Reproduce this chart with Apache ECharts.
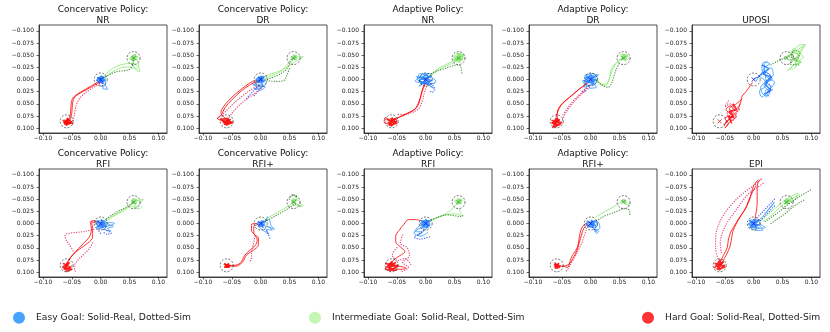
<!DOCTYPE html>
<html>
<head>
<meta charset="utf-8">
<script src="https://cdn.jsdelivr.net/npm/echarts@6.0.0/dist/echarts.min.js"></script>
<style>
  html, body { margin: 0; padding: 0; background: #fff; }
  #chart { width: 830px; height: 332px; }
</style>
</head>
<body>
<div id="chart"></div>
<script>
// tick values and labels (matplotlib style minus sign)
const xTicks = [-0.1, -0.05, 0, 0.05, 0.1];
const xTickLabels = ['−0.10', '−0.05', '0.00', '0.05', '0.10'];
const yTicks = [-0.1, -0.075, -0.05, -0.025, 0, 0.025, 0.05, 0.075, 0.1];
const yTickLabels = ['−0.100', '−0.075', '−0.050', '−0.025', '0.000', '0.025', '0.050', '0.075', '0.100'];

const titles = [
  'Concervative Policy:\nNR', 'Concervative Policy:\nDR', 'Adaptive Policy:\nNR', 'Adaptive Policy:\nDR', 'UPOSI',
  'Concervative Policy:\nRFI', 'Concervative Policy:\nRFI+', 'Adaptive Policy:\nRFI', 'Adaptive Policy:\nRFI+', 'EPI'
];
const legendNames = ['Easy Goal: Solid-Real, Dotted-Sim', 'Intermediate Goal: Solid-Real, Dotted-Sim', 'Hard Goal: Solid-Real, Dotted-Sim'];

// goals [x, y]
const goalEasy = [0, 0];
const goalMid = [0.057, -0.044];
const goalHard = [-0.059, 0.086];

// ---- Concervative Policy: NR
const consNrBlueReal = [
  [[0.0,0.0],[-0.006,-0.004],[0.004,0.003],[-0.004,0.006],[0.006,-0.005],[0.008,0.01],[0.003,0.018],[0.012,0.02],[0.005,0.008],[-0.007,0.002],[0.002,-0.006],[0.007,0.004],[0.001,0.001]]
];
const consNrBlueSim = [[[0.001,0.004],[0.004,0.01],[0.002,0.015],[-0.002,0.008]]];
const consNrGreenReal = [
  [[0.004,-0.004],[0.014,-0.017],[0.027,-0.027],[0.042,-0.032],[0.056,-0.033],[0.065,-0.027],[0.068,-0.016],[0.061,-0.02],[0.056,-0.034],[0.058,-0.044],[0.064,-0.04],[0.053,-0.047],[0.06,-0.05],[0.057,-0.043]],
  [[0.006,-0.002],[0.02,-0.015],[0.035,-0.024],[0.05,-0.026],[0.062,-0.022],[0.066,-0.03],[0.06,-0.044]]
];
const consNrGreenSim = [[[0.005,-0.003],[0.018,-0.012],[0.032,-0.017],[0.046,-0.019],[0.053,-0.024],[0.056,-0.033],[0.057,-0.044]]];
const consNrRedReal = [
  [[-0.002,0.003],[-0.016,0.013],[-0.032,0.024],[-0.047,0.036],[-0.051,0.048],[-0.052,0.065],[-0.054,0.079],[-0.059,0.086],[-0.052,0.09],[-0.063,0.092],[-0.057,0.082],[-0.05,0.088],[-0.06,0.089]],
  [[-0.001,0.005],[-0.02,0.018],[-0.044,0.035],[-0.049,0.05],[-0.05,0.068],[-0.055,0.085],[-0.065,0.087],[-0.058,0.093]]
];
const consNrRedSim = [[[0.001,0.007],[-0.012,0.016],[-0.025,0.026],[-0.036,0.038],[-0.042,0.052],[-0.045,0.066],[-0.047,0.08],[-0.051,0.09]]];
const consNrBlobs = [
  [[-0.006,-0.004],[0.005,0.003],[-0.004,0.006],[0.006,-0.005],[-0.007,0.002],[0.004,0.007],[0.002,-0.007],[-0.005,-0.001],[0.007,0.001],[-0.002,0.005],[0.003,-0.003]],
  [[0.052,-0.047],[0.062,-0.041],[0.055,-0.05],[0.064,-0.047],[0.053,-0.04],[0.06,-0.052],[0.058,-0.038],[0.05,-0.044]],
  [[-0.066,0.084],[-0.052,0.09],[-0.062,0.092],[-0.054,0.082],[-0.064,0.09],[-0.05,0.087],[-0.06,0.094],[-0.058,0.08],[-0.048,0.092]]
];

// ---- Concervative Policy: DR
const consDrBlueReal = [
  [[0.0,0.0],[-0.008,0.004],[0.006,-0.004],[-0.012,0.012],[0.004,0.01],[-0.01,0.02],[0.002,0.016],[0.01,0.006],[-0.004,-0.006],[0.003,0.003]],
  [[-0.002,0.004],[-0.015,0.008],[-0.006,0.014],[0.008,0.015],[0.0,0.022],[-0.012,0.018]]
];
const consDrBlueSim = [
  [[-0.004,0.012],[-0.01,0.02],[-0.016,0.028],[-0.022,0.036],[-0.026,0.043]],
  [[0.004,0.014],[-0.004,0.024],[-0.012,0.034]]
];
const consDrGreenReal = [
  [[0.004,-0.004],[0.014,-0.01],[0.025,-0.014],[0.038,-0.02],[0.048,-0.027],[0.058,-0.035],[0.068,-0.042],[0.074,-0.047],[0.062,-0.046],[0.056,-0.043]],
  [[0.006,-0.002],[0.02,-0.008],[0.034,-0.016],[0.046,-0.03],[0.055,-0.044],[0.06,-0.04]]
];
const consDrGreenSim = [
  [[0.008,0.001],[0.02,-0.004],[0.032,-0.01],[0.044,-0.02],[0.05,-0.032],[0.056,-0.044]],
  [[0.015,0.003],[0.028,0.004],[0.04,0.002],[0.046,-0.01],[0.05,-0.024]]
];
const consDrRedReal = [
  [[-0.003,0.002],[-0.014,0.004],[-0.027,0.014],[-0.04,0.026],[-0.053,0.04],[-0.064,0.055],[-0.069,0.068],[-0.063,0.078],[-0.058,0.084],[-0.05,0.088],[-0.062,0.09],[-0.056,0.082],[-0.052,0.089]],
  [[-0.004,0.004],[-0.02,0.012],[-0.036,0.026],[-0.05,0.042],[-0.062,0.058],[-0.068,0.072],[-0.075,0.08],[-0.06,0.086]]
];
const consDrRedSim = [
  [[-0.004,0.012],[-0.018,0.022],[-0.032,0.034],[-0.046,0.048],[-0.058,0.062],[-0.068,0.074],[-0.078,0.082]],
  [[0.0,0.018],[-0.012,0.03],[-0.026,0.042],[-0.04,0.056],[-0.05,0.07],[-0.058,0.084]]
];
const consDrBlobs = [
  [[-0.006,-0.004],[0.006,0.004],[-0.005,0.006],[0.006,-0.006],[-0.008,0.0],[0.003,0.008],[0.001,-0.007],[-0.006,0.003],[0.007,0.002]],
  [[0.052,-0.046],[0.063,-0.042],[0.056,-0.05],[0.062,-0.048],[0.054,-0.04]],
  [[-0.068,0.084],[-0.05,0.09],[-0.064,0.092],[-0.052,0.082],[-0.066,0.088],[-0.048,0.088],[-0.06,0.094],[-0.056,0.08],[-0.07,0.082]]
];

// ---- Adaptive Policy: NR
const adNrBlueReal = [
  [[0.0,0.0],[-0.016,-0.006],[-0.006,0.006],[-0.018,0.004],[-0.004,-0.01],[0.01,-0.004],[0.018,0.004],[0.006,0.012],[0.014,0.018],[-0.002,0.008],[-0.012,0.014],[0.002,0.002]],
  [[0.002,-0.002],[0.012,-0.012],[-0.01,-0.012],[-0.014,0.0],[0.004,0.01],[0.016,0.008]]
];
const adNrBlueSim = [[[0.006,0.006],[0.012,0.012],[0.016,0.02],[0.012,0.026],[0.006,0.024]]];
const adNrGreenReal = [
  [[0.004,-0.006],[0.014,-0.015],[0.024,-0.024],[0.036,-0.031],[0.047,-0.038],[0.056,-0.044],[0.066,-0.05],[0.05,-0.05],[0.06,-0.036],[0.064,-0.046],[0.052,-0.04]],
  [[0.006,-0.004],[0.02,-0.017],[0.034,-0.027],[0.048,-0.034],[0.058,-0.042],[0.07,-0.044]]
];
const adNrGreenSim = [[[0.01,-0.012],[0.02,-0.018],[0.032,-0.022],[0.044,-0.027],[0.054,-0.03],[0.06,-0.028],[0.062,-0.02],[0.063,-0.012]]];
const adNrRedReal = [
  [[0.0,0.006],[-0.004,0.018],[-0.008,0.032],[-0.012,0.046],[-0.018,0.06],[-0.028,0.068],[-0.04,0.075],[-0.052,0.08],[-0.06,0.084],[-0.07,0.078],[-0.072,0.088],[-0.058,0.092],[-0.05,0.084],[-0.062,0.08]],
  [[-0.002,0.008],[-0.007,0.025],[-0.01,0.042],[-0.016,0.058],[-0.026,0.066],[-0.044,0.076],[-0.056,0.086]]
];
const adNrRedSim = [[[0.003,0.01],[-0.002,0.026],[-0.006,0.044],[-0.012,0.06],[-0.024,0.068],[-0.036,0.072],[-0.048,0.072]]];
const adNrBlobs = [
  [[-0.01,-0.006],[0.008,0.004],[-0.008,0.008],[0.009,-0.007],[-0.011,0.002],[0.005,0.01],[0.002,-0.01],[-0.008,-0.002],[0.01,0.002],[-0.003,0.008],[0.004,-0.005]],
  [[0.048,-0.046],[0.064,-0.04],[0.054,-0.054],[0.066,-0.05],[0.05,-0.038],[0.06,-0.054],[0.058,-0.036],[0.048,-0.042]],
  [[-0.068,0.082],[-0.05,0.09],[-0.064,0.094],[-0.052,0.08],[-0.066,0.09],[-0.05,0.086],[-0.06,0.096],[-0.058,0.078]]
];

// ---- Adaptive Policy: DR
const adDrBlueReal = [
  [[0.0,0.0],[-0.01,-0.008],[0.004,-0.012],[0.012,-0.002],[0.006,0.01],[-0.008,0.012],[-0.014,0.002],[0.002,0.006],[0.01,0.016],[-0.004,0.018]],
  [[0.002,0.0],[0.014,-0.01],[-0.006,-0.004],[-0.012,0.016],[0.008,0.008]]
];
const adDrBlueSim = [[[-0.004,0.014],[-0.01,0.02],[-0.016,0.026],[-0.008,0.024]]];
const adDrGreenReal = [
  [[0.006,-0.004],[0.014,0.004],[0.02,0.01],[0.028,0.008],[0.033,-0.004],[0.037,-0.018],[0.042,-0.03],[0.05,-0.04],[0.058,-0.044],[0.064,-0.05],[0.052,-0.052],[0.06,-0.038],[0.066,-0.044]],
  [[0.004,-0.002],[0.016,0.008],[0.026,0.012],[0.032,0.0],[0.036,-0.022],[0.046,-0.036],[0.056,-0.046]]
];
const adDrGreenSim = [[[0.01,0.002],[0.02,0.012],[0.03,0.016],[0.036,0.008],[0.04,-0.006],[0.044,-0.02],[0.05,-0.034]]];
const adDrRedReal = [
  [[-0.004,0.006],[-0.016,0.016],[-0.03,0.03],[-0.042,0.042],[-0.052,0.054],[-0.057,0.066],[-0.06,0.078],[-0.062,0.088],[-0.056,0.094],[-0.066,0.09],[-0.058,0.08],[-0.054,0.088]],
  [[-0.006,0.008],[-0.022,0.022],[-0.038,0.038],[-0.05,0.05],[-0.058,0.068],[-0.058,0.086]]
];
const adDrRedSim = [
  [[-0.002,0.016],[-0.014,0.028],[-0.026,0.042],[-0.036,0.056],[-0.044,0.07],[-0.05,0.086]],
  [[-0.008,0.018],[-0.02,0.032],[-0.032,0.046],[-0.042,0.062],[-0.05,0.076]]
];
const adDrBlobs = [
  [[-0.008,-0.008],[0.007,0.004],[-0.009,0.006],[0.008,-0.006],[-0.01,-0.002],[0.004,0.009],[0.0,-0.01],[-0.007,0.002],[0.009,0.0],[-0.002,0.007]],
  [[0.052,-0.048],[0.062,-0.042],[0.055,-0.052],[0.064,-0.048],[0.052,-0.04],[0.06,-0.05]],
  [[-0.068,0.084],[-0.052,0.092],[-0.064,0.096],[-0.054,0.082],[-0.068,0.09],[-0.05,0.088],[-0.062,0.098],[-0.058,0.08],[-0.066,0.1]]
];

// ---- UPOSI
const uposiBlueReal = [
  [[0.0,0.0],[0.012,-0.01],[0.02,-0.026],[0.028,-0.032],[0.018,-0.036],[0.014,-0.02],[0.026,-0.012],[0.032,0.0],[0.022,0.006],[0.03,0.016],[0.02,0.024],[0.026,0.034],[0.016,0.03],[0.012,0.016],[0.02,0.004],[0.01,-0.006]],
  [[0.004,0.004],[0.016,-0.014],[0.024,-0.004],[0.036,0.006],[0.028,0.02],[0.014,0.036],[0.01,0.024],[0.022,0.012],[0.018,-0.03],[0.024,-0.038]],
  [[0.008,-0.004],[0.02,-0.018],[0.03,-0.024],[0.034,-0.01],[0.024,0.0],[0.018,0.012],[0.028,0.028],[0.02,0.036]]
];
const uposiBlueSim = [[[0.006,-0.004],[0.02,-0.014],[0.03,-0.006],[0.022,0.004],[0.03,0.014],[0.024,0.026],[0.034,0.02]]];
const uposiGreenReal = [
  [[0.05,-0.042],[0.06,-0.05],[0.072,-0.058],[0.082,-0.066],[0.088,-0.07],[0.08,-0.056],[0.086,-0.046],[0.074,-0.036],[0.064,-0.024],[0.058,-0.018],[0.07,-0.03],[0.078,-0.05],[0.07,-0.064],[0.062,-0.044]],
  [[0.056,-0.046],[0.066,-0.038],[0.076,-0.044],[0.084,-0.06],[0.09,-0.072],[0.078,-0.07],[0.068,-0.052],[0.074,-0.028],[0.064,-0.02]]
];
const uposiGreenSim = [[[0.03,-0.03],[0.042,-0.038],[0.054,-0.044],[0.066,-0.05],[0.074,-0.04],[0.08,-0.056],[0.07,-0.06],[0.064,-0.032],[0.078,-0.03]]];
const uposiRedReal = [
  [[-0.002,0.006],[-0.008,0.016],[-0.014,0.026],[-0.02,0.034],[-0.022,0.044],[-0.026,0.056],[-0.034,0.062],[-0.04,0.054],[-0.048,0.062],[-0.04,0.072],[-0.05,0.08],[-0.044,0.09],[-0.05,0.1],[-0.04,0.086],[-0.03,0.076],[-0.038,0.066]],
  [[-0.02,0.04],[-0.03,0.05],[-0.042,0.06],[-0.036,0.074],[-0.046,0.086],[-0.052,0.094],[-0.042,0.08],[-0.028,0.064],[-0.024,0.05]]
];
const uposiRedSim = [[[-0.044,0.044],[-0.05,0.056],[-0.04,0.05],[-0.034,0.06],[-0.046,0.07],[-0.036,0.084],[-0.03,0.07],[-0.024,0.06]]];
const uposiBlobs = [
  [[0.014,-0.03],[0.026,-0.022],[0.016,-0.012],[0.03,-0.004],[0.02,0.01],[0.03,0.022],[0.018,0.03]],
  [[0.066,-0.058],[0.078,-0.05],[0.07,-0.04],[0.082,-0.036],[0.072,-0.03]],
  [[-0.036,0.05],[-0.03,0.062],[-0.042,0.066],[-0.034,0.078],[-0.044,0.076],[-0.038,0.09]]
];

// ---- Concervative Policy: RFI
const consRfiBlueReal = [
  [[0.0,0.0],[-0.01,-0.004],[0.004,-0.006],[0.014,0.002],[0.022,0.006],[0.012,0.01],[0.018,0.016],[0.004,0.012],[-0.008,0.008],[0.0,0.004]],
  [[0.002,0.002],[0.016,-0.002],[0.024,0.0],[0.01,0.006],[-0.004,0.01]]
];
const consRfiBlueSim = [[[0.004,0.008],[0.01,0.014],[0.018,0.02],[0.01,0.022],[0.004,0.016]], [[-0.006,0.012],[0.0,0.02]]];
const consRfiGreenReal = [
  [[0.006,-0.006],[0.018,-0.014],[0.03,-0.022],[0.042,-0.03],[0.052,-0.038],[0.058,-0.044],[0.068,-0.048],[0.074,-0.05],[0.066,-0.038],[0.058,-0.032],[0.062,-0.044]],
  [[0.008,-0.004],[0.024,-0.016],[0.04,-0.026],[0.054,-0.036],[0.066,-0.03],[0.072,-0.036]]
];
const consRfiGreenSim = [[[0.01,-0.01],[0.02,-0.018],[0.03,-0.025],[0.04,-0.031],[0.048,-0.037],[0.055,-0.043]]];
const consRfiRedReal = [
  [[-0.004,-0.002],[-0.012,-0.006],[-0.018,-0.002],[-0.016,0.01],[-0.018,0.024],[-0.024,0.034],[-0.034,0.046],[-0.044,0.058],[-0.052,0.07],[-0.058,0.082],[-0.064,0.09],[-0.056,0.094],[-0.05,0.086]],
  [[-0.006,0.0],[-0.016,-0.004],[-0.014,0.012],[-0.014,0.028],[-0.022,0.04],[-0.036,0.052],[-0.048,0.064],[-0.056,0.076],[-0.06,0.088]]
];
const consRfiRedSim = [
  [[-0.012,0.012],[-0.026,0.016],[-0.04,0.018],[-0.054,0.02],[-0.062,0.024],[-0.06,0.034],[-0.054,0.044],[-0.048,0.056]],
  [[-0.014,0.04],[-0.02,0.052],[-0.03,0.064],[-0.04,0.076],[-0.046,0.088],[-0.044,0.098]]
];
const consRfiBlobs = [
  [[-0.007,-0.005],[0.006,0.004],[-0.006,0.007],[0.008,-0.004],[-0.008,0.001],[0.003,0.008],[0.001,-0.008],[0.01,0.006],[-0.004,0.004]],
  [[0.052,-0.046],[0.062,-0.04],[0.055,-0.05],[0.063,-0.048],[0.053,-0.04]],
  [[-0.066,0.082],[-0.052,0.09],[-0.064,0.094],[-0.054,0.08],[-0.066,0.09],[-0.05,0.094],[-0.06,0.098],[-0.058,0.08]]
];

// ---- Concervative Policy: RFI+
const consRfiPBlueReal = [
  [[0.0,0.0],[0.008,-0.004],[0.012,-0.014],[0.006,0.004],[0.016,0.008],[0.02,0.014],[0.01,0.012],[0.014,0.022],[0.004,0.014],[-0.004,0.004],[0.002,-0.002]],
  [[0.002,0.0],[0.014,-0.008],[0.018,0.004],[0.024,0.012],[0.012,0.006]]
];
const consRfiPBlueSim = [[[0.004,0.008],[0.01,0.016],[0.014,0.024],[0.016,0.03]]];
const consRfiPGreenReal = [
  [[0.006,-0.006],[0.016,-0.014],[0.028,-0.022],[0.04,-0.03],[0.05,-0.038],[0.056,-0.044],[0.062,-0.052],[0.058,-0.058],[0.066,-0.046],[0.074,-0.036],[0.062,-0.036],[0.054,-0.04]]
];
const consRfiPGreenSim = [
  [[0.008,-0.004],[0.02,-0.012],[0.032,-0.02],[0.044,-0.028],[0.054,-0.036],[0.062,-0.04],[0.07,-0.034]],
  [[0.05,-0.05],[0.056,-0.06],[0.064,-0.054]]
];
const consRfiPRedReal = [
  [[-0.006,0.0],[-0.016,0.002],[-0.016,0.014],[-0.01,0.024],[-0.006,0.034],[-0.01,0.046],[-0.02,0.056],[-0.028,0.066],[-0.032,0.076],[-0.036,0.082],[-0.046,0.086],[-0.056,0.086],[-0.062,0.082],[-0.058,0.09]],
  [[-0.004,0.002],[-0.012,0.006],[-0.012,0.02],[-0.004,0.03],[-0.004,0.044],[-0.014,0.056],[-0.024,0.064],[-0.032,0.08],[-0.044,0.088],[-0.058,0.088]]
];
const consRfiPRedSim = [[[-0.01,0.026],[-0.012,0.038],[-0.014,0.05],[-0.016,0.062],[-0.016,0.072],[-0.02,0.08]]];
const consRfiPBlobs = [
  [[-0.005,-0.004],[0.006,0.003],[-0.004,0.006],[0.006,-0.005],[-0.006,0.0],[0.004,0.007],[0.001,-0.006]],
  [[0.053,-0.046],[0.061,-0.041],[0.055,-0.05],[0.062,-0.048],[0.054,-0.041]],
  [[-0.064,0.083],[-0.054,0.09],[-0.063,0.09],[-0.055,0.082],[-0.062,0.088],[-0.053,0.086]]
];

// ---- Adaptive Policy: RFI
const adRfiBlueReal = [
  [[0.0,0.0],[-0.008,-0.006],[0.006,-0.004],[0.004,0.008],[-0.01,0.01],[-0.018,0.016],[-0.006,0.018],[-0.014,0.024],[0.0,0.012],[0.004,0.002]],
  [[0.002,0.0],[-0.012,0.006],[-0.02,0.02],[-0.008,0.026],[0.004,0.018]]
];
const adRfiBlueSim = [[[-0.004,0.014],[-0.012,0.022],[-0.02,0.028],[-0.01,0.032],[0.0,0.03],[0.01,0.026]]];
const adRfiGreenReal = [
  [[0.004,-0.004],[0.016,-0.01],[0.028,-0.016],[0.04,-0.024],[0.05,-0.034],[0.056,-0.044],[0.062,-0.05],[0.05,-0.046],[0.058,-0.038]],
  [[0.006,-0.002],[0.02,-0.012],[0.036,-0.018],[0.05,-0.02],[0.062,-0.016],[0.058,-0.03]]
];
const adRfiGreenSim = [[[0.01,-0.008],[0.024,-0.014],[0.038,-0.018],[0.05,-0.016],[0.062,-0.014],[0.066,-0.02]]];
const adRfiRedReal = [
  [[-0.008,-0.006],[-0.02,-0.008],[-0.03,-0.008],[-0.038,0.002],[-0.046,0.014],[-0.052,0.026],[-0.052,0.038],[-0.044,0.048],[-0.036,0.058],[-0.042,0.064],[-0.05,0.07],[-0.058,0.078],[-0.064,0.088],[-0.05,0.094],[-0.04,0.094],[-0.034,0.092],[-0.052,0.086],[-0.062,0.082]]
];
const adRfiRedSim = [
  [[-0.04,0.024],[-0.044,0.04],[-0.032,0.05],[-0.028,0.066],[-0.04,0.08],[-0.03,0.09],[-0.044,0.1]],
  [[-0.05,0.05],[-0.058,0.064],[-0.048,0.076],[-0.036,0.072],[-0.026,0.084]]
];
const adRfiBlobs = [
  [[-0.008,-0.006],[0.007,0.004],[-0.007,0.007],[0.008,-0.006],[-0.009,0.0],[0.004,0.008],[0.001,-0.008],[-0.006,0.003],[0.008,0.001]],
  [[0.052,-0.047],[0.062,-0.041],[0.055,-0.051],[0.063,-0.047],[0.053,-0.04],[0.06,-0.05]],
  [[-0.07,0.082],[-0.05,0.09],[-0.066,0.096],[-0.052,0.08],[-0.068,0.09],[-0.048,0.086],[-0.062,0.098],[-0.058,0.078],[-0.07,0.094],[-0.05,0.096]]
];

// ---- Adaptive Policy: RFI+
const adRfiPBlueReal = [
  [[0.0,0.0],[0.008,-0.006],[0.012,0.004],[0.006,0.01],[0.014,0.016],[0.01,0.02],[0.004,0.008],[-0.006,0.004],[0.002,-0.004]],
  [[0.002,0.002],[0.012,-0.004],[0.016,0.01],[0.008,0.014]]
];
const adRfiPBlueSim = [[[0.004,0.008],[0.008,0.014],[0.012,0.02]]];
const adRfiPGreenReal = [
  [[0.008,-0.012],[0.018,-0.02],[0.03,-0.028],[0.042,-0.036],[0.05,-0.042],[0.056,-0.045],[0.064,-0.042],[0.068,-0.036],[0.06,-0.04]]
];
const adRfiPGreenSim = [[[0.01,-0.006],[0.022,-0.014],[0.034,-0.02],[0.046,-0.025],[0.056,-0.03],[0.064,-0.03],[0.068,-0.024],[0.068,-0.016]]];
const adRfiPRedReal = [
  [[-0.006,-0.002],[-0.014,0.006],[-0.018,0.018],[-0.02,0.03],[-0.022,0.044],[-0.026,0.056],[-0.032,0.066],[-0.036,0.078],[-0.04,0.09],[-0.048,0.088],[-0.056,0.086],[-0.062,0.08],[-0.058,0.09]],
  [[-0.004,0.0],[-0.012,0.01],[-0.016,0.024],[-0.02,0.04],[-0.024,0.056],[-0.03,0.07],[-0.038,0.084],[-0.05,0.088]]
];
const adRfiPRedSim = [[[-0.008,0.014],[-0.012,0.028],[-0.016,0.042],[-0.022,0.056],[-0.028,0.07],[-0.034,0.082],[-0.04,0.094],[-0.044,0.1]]];
const adRfiPBlobs = [
  [[-0.007,-0.005],[0.007,0.004],[-0.006,0.007],[0.008,-0.005],[-0.008,0.001],[0.004,0.008],[0.001,-0.007],[0.009,0.006]],
  [[0.053,-0.046],[0.061,-0.042],[0.055,-0.049],[0.062,-0.047]],
  [[-0.064,0.084],[-0.054,0.09],[-0.062,0.092],[-0.055,0.082],[-0.063,0.088],[-0.052,0.088]]
];

// ---- EPI
const epiBlueReal = [
  [[0.0,0.0],[-0.008,-0.006],[0.006,-0.008],[0.012,0.002],[0.02,0.008],[0.008,0.01],[-0.006,0.008],[0.004,0.014],[0.016,0.014],[0.01,0.004],[0.0,0.002]],
  [[0.004,-0.004],[0.014,-0.012],[0.022,-0.024],[0.03,-0.034],[0.036,-0.044],[0.03,-0.036],[0.02,-0.02]]
];
const epiBlueSim = [
  [[0.006,-0.012],[0.014,-0.022],[0.022,-0.032],[0.03,-0.042],[0.036,-0.05]],
  [[0.012,-0.006],[0.02,-0.016],[0.028,-0.026],[0.036,-0.036]]
];
const epiGreenReal = [
  [[0.012,-0.006],[0.024,-0.018],[0.036,-0.03],[0.048,-0.042],[0.058,-0.05],[0.068,-0.058],[0.076,-0.062],[0.072,-0.05],[0.06,-0.044],[0.066,-0.054]],
  [[0.016,-0.004],[0.03,-0.016],[0.044,-0.032],[0.056,-0.044],[0.068,-0.052],[0.08,-0.06]]
];
const epiGreenSim = [
  [[0.02,-0.004],[0.032,-0.014],[0.044,-0.024],[0.056,-0.036],[0.068,-0.046],[0.08,-0.056],[0.092,-0.064],[0.1,-0.07]],
  [[0.03,0.0],[0.042,-0.01],[0.054,-0.02],[0.066,-0.032],[0.078,-0.042],[0.09,-0.05]]
];
const epiRedReal = [
  [[0.002,-0.006],[0.004,-0.022],[0.006,-0.04],[0.006,-0.056],[0.006,-0.072],[0.008,-0.086],[0.012,-0.09]],
  [[-0.056,0.084],[-0.05,0.07],[-0.044,0.056],[-0.04,0.042],[-0.038,0.028],[-0.036,0.016],[-0.03,0.0],[-0.022,-0.016],[-0.014,-0.032],[-0.008,-0.046],[-0.004,-0.062],[0.0,-0.078],[0.008,-0.09]],
  [[-0.058,0.08],[-0.052,0.064],[-0.046,0.05],[-0.044,0.034],[-0.04,0.018],[-0.032,0.002],[-0.024,-0.014],[-0.014,-0.03],[-0.01,-0.044],[-0.004,-0.06],[0.004,-0.078]]
];
const epiRedSim = [
  [[-0.062,0.072],[-0.066,0.05],[-0.066,0.028],[-0.062,0.006],[-0.054,-0.014],[-0.042,-0.034],[-0.028,-0.052],[-0.012,-0.068],[0.002,-0.08],[0.014,-0.092]],
  [[-0.056,0.06],[-0.058,0.04],[-0.054,0.018],[-0.046,-0.002],[-0.034,-0.022],[-0.022,-0.042],[-0.01,-0.06],[0.004,-0.072],[0.018,-0.084]]
];
const epiBlobs = [
  [[-0.008,-0.006],[0.007,0.004],[-0.007,0.008],[0.009,-0.006],[-0.009,0.001],[0.005,0.009],[0.001,-0.008],[-0.005,0.004],[0.01,0.002]],
  [[0.052,-0.047],[0.062,-0.041],[0.055,-0.051],[0.064,-0.048],[0.053,-0.04]],
  [[-0.068,0.082],[-0.05,0.09],[-0.064,0.094],[-0.052,0.078],[-0.066,0.088],[-0.05,0.086],[-0.06,0.096],[-0.058,0.074],[-0.068,0.092]]
];

const panelData = [
  [consNrBlueReal, consNrBlueSim, consNrGreenReal, consNrGreenSim, consNrRedReal, consNrRedSim],
  [consDrBlueReal, consDrBlueSim, consDrGreenReal, consDrGreenSim, consDrRedReal, consDrRedSim],
  [adNrBlueReal, adNrBlueSim, adNrGreenReal, adNrGreenSim, adNrRedReal, adNrRedSim],
  [adDrBlueReal, adDrBlueSim, adDrGreenReal, adDrGreenSim, adDrRedReal, adDrRedSim],
  [uposiBlueReal, uposiBlueSim, uposiGreenReal, uposiGreenSim, uposiRedReal, uposiRedSim],
  [consRfiBlueReal, consRfiBlueSim, consRfiGreenReal, consRfiGreenSim, consRfiRedReal, consRfiRedSim],
  [consRfiPBlueReal, consRfiPBlueSim, consRfiPGreenReal, consRfiPGreenSim, consRfiPRedReal, consRfiPRedSim],
  [adRfiBlueReal, adRfiBlueSim, adRfiGreenReal, adRfiGreenSim, adRfiRedReal, adRfiRedSim],
  [adRfiPBlueReal, adRfiPBlueSim, adRfiPGreenReal, adRfiPGreenSim, adRfiPRedReal, adRfiPRedSim],
  [epiBlueReal, epiBlueSim, epiGreenReal, epiGreenSim, epiRedReal, epiRedSim]
];
const panelBlobs = [consNrBlobs, consDrBlobs, adNrBlobs, adDrBlobs, uposiBlobs,
  consRfiBlobs, consRfiPBlobs, adRfiBlobs, adRfiPBlobs, epiBlobs];

// styles: real (solid) / sim (dotted) per goal
const traceStyles = [
  { color: 'rgba(30,144,255,0.75)', dotted: false },
  { color: 'rgba(45,60,240,0.8)', dotted: true },
  { color: 'rgba(150,235,130,0.9)', dotted: false },
  { color: 'rgba(50,130,35,0.85)', dotted: true },
  { color: 'rgba(255,0,0,0.8)', dotted: false },
  { color: 'rgba(230,30,90,0.8)', dotted: true }
];
const blobColors = ['rgba(20,120,255,0.8)', 'rgba(140,230,115,0.9)', 'rgba(255,0,0,0.85)'];
const legendColors = ['#1a8cff', '#b5f29f', '#ff0000'];
const markColors = ['#1010e0', '#2a9a2a', '#e81010'];

const gridLefts = [39, 199, 364, 529, 692];
const gridTops = [25, 169];
const gridW = 128, gridH = 108;

const fmt = (ticks, labels) => v => {
  const i = ticks.findIndex(t => Math.abs(t - v) < 1e-9);
  return i >= 0 ? labels[i] : '';
};

const grids = [], xAxes = [], yAxes = [], series = [], titleList = [];
titles.forEach((t, i) => {
  const left = gridLefts[i % 5], top = gridTops[Math.floor(i / 5)];
  grids.push({ left: left, top: top, width: gridW, height: gridH, show: true,
    borderColor: '#222', borderWidth: 0.8, backgroundColor: 'transparent' });
  xAxes.push({ type: 'value', gridIndex: i, min: -0.107, max: 0.115,
    splitLine: { show: false },
    axisLine: { show: true, onZero: false, lineStyle: { color: '#222', width: 0.8 } },
    axisTick: { show: true, length: 2.5, customValues: xTicks, lineStyle: { color: '#222', width: 0.7 } },
    axisLabel: { customValues: xTicks, formatter: fmt(xTicks, xTickLabels), fontSize: 6, color: '#222', margin: 2 } });
  yAxes.push({ type: 'value', gridIndex: i, inverse: true, min: -0.112, max: 0.11,
    splitLine: { show: false },
    axisLine: { show: true, onZero: false, lineStyle: { color: '#222', width: 0.8 } },
    axisTick: { show: true, length: 2.5, customValues: yTicks, lineStyle: { color: '#222', width: 0.7 } },
    axisLabel: { customValues: yTicks, formatter: fmt(yTicks, yTickLabels), fontSize: 6, color: '#222', margin: 5 } });
  const twoLine = t.indexOf('\n') >= 0;
  titleList.push({ text: t, left: left + gridW / 2, top: top - (twoLine ? 20.5 : 9.5), padding: 0,
    textAlign: 'center',
    textStyle: { fontSize: 9, fontWeight: 'normal', lineHeight: 11, color: '#111', fontFamily: 'DejaVu Sans' } });

  panelData[i].forEach((lines, k) => {
    const st = traceStyles[k];
    lines.forEach(pts => {
      series.push({ type: 'line', xAxisIndex: i, yAxisIndex: i, data: pts, showSymbol: false, symbol: 'none',
        smooth: 0.35, silent: true, z: st.dotted ? 3 : 2,
        lineStyle: st.dotted
          ? { color: st.color, width: 1.3, type: [0.1, 2.4], cap: 'round' }
          : { color: st.color, width: 1.0 } });
    });
  });
  panelBlobs[i].forEach((pts, j) => {
    series.push({ type: 'line', xAxisIndex: i, yAxisIndex: i, data: pts, showSymbol: false, symbol: 'none',
      smooth: 0.2, silent: true, z: 2, lineStyle: { color: blobColors[j], width: 1.6 } });
  });
  series.push({ type: 'scatter', xAxisIndex: i, yAxisIndex: i, data: [goalEasy, goalMid, goalHard],
    symbol: 'circle', symbolSize: 13, silent: true, z: 5,
    itemStyle: { color: 'rgba(0,0,0,0)', borderColor: '#222', borderWidth: 0.8, borderType: [2, 1.5] } });
  series.push({ type: 'scatter', xAxisIndex: i, yAxisIndex: i, silent: true, z: 6,
    symbol: 'path://M0,0L10,10M10,0L0,10', symbolSize: 4,
    data: [goalEasy, goalMid, goalHard].map((g, j) => ({ value: g, itemStyle: { color: 'none', borderColor: markColors[j], borderWidth: 1 } })) });
});

// legend-only series
legendNames.forEach((n, j) => {
  series.push({ type: 'scatter', name: n, xAxisIndex: 0, yAxisIndex: 0, data: [], itemStyle: { color: legendColors[j] } });
});
const legendLefts = [13, 309, 642];
const legends = legendNames.map((n, j) => ({
  data: [n], left: legendLefts[j], top: 311.7, icon: 'circle', itemWidth: 12, itemHeight: 12,
  selectedMode: false, padding: 0,
  textStyle: { fontSize: 9.2, color: '#222', fontFamily: 'DejaVu Sans', padding: [0, 0, 0, 6] }
}));

const chart = echarts.init(document.getElementById('chart'), null, { renderer: 'canvas' });
chart.setOption({
  animation: false,
  textStyle: { fontFamily: 'DejaVu Sans' },
  title: titleList,
  legend: legends,
  grid: grids,
  xAxis: xAxes,
  yAxis: yAxes,
  series: series
});
</script>
</body>
</html>
